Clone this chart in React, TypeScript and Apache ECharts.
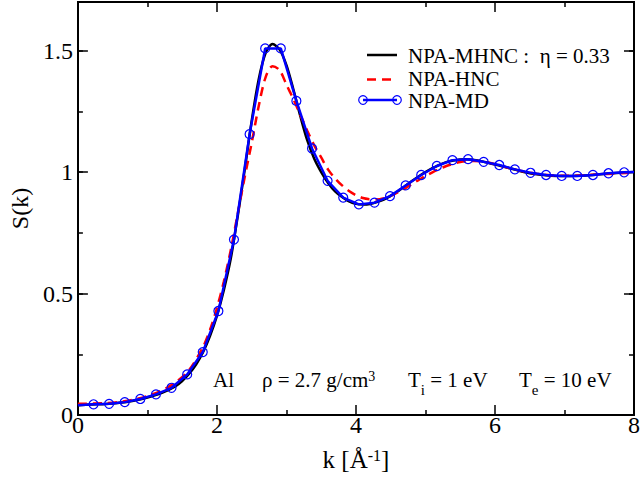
import React, { useEffect, useRef } from "react";
import * as echarts from "echarts";

// NPA-MHNC (eta = 0.33), solid black
const kMHNC = [0.0, 0.2, 0.4, 0.6, 0.8, 1.0, 1.2, 1.4, 1.5, 1.6, 1.7, 1.8, 1.9, 2.0, 2.1, 2.2, 2.3, 2.4, 2.5, 2.6, 2.7, 2.8, 2.9, 3.0, 3.1, 3.2, 3.3, 3.4, 3.5, 3.6, 3.7, 3.8, 3.9, 4.0, 4.1, 4.2, 4.3, 4.4, 4.5, 4.6, 4.7, 4.8, 4.9, 5.0, 5.1, 5.2, 5.3, 5.4, 5.5, 5.6, 5.7, 5.8, 5.9, 6.0, 6.1, 6.2, 6.3, 6.4, 6.5, 6.6, 6.7, 6.8, 7.0, 7.2, 7.4, 7.6, 7.8, 8.0];
const sMHNC = [0.040, 0.043, 0.045, 0.050, 0.059, 0.072, 0.090, 0.118, 0.140, 0.170, 0.208, 0.258, 0.325, 0.408, 0.515, 0.645, 0.82, 1.01, 1.21, 1.38, 1.49, 1.527, 1.505, 1.44, 1.34, 1.23, 1.13, 1.055, 1.0, 0.955, 0.92, 0.897, 0.879, 0.869, 0.866, 0.868, 0.876, 0.887, 0.902, 0.920, 0.941, 0.962, 0.982, 1.000, 1.016, 1.030, 1.041, 1.048, 1.052, 1.053, 1.050, 1.045, 1.038, 1.031, 1.024, 1.017, 1.009, 1.001, 0.995, 0.991, 0.988, 0.985, 0.984, 0.985, 0.988, 0.993, 0.997, 1.000];

// NPA-HNC, dashed red
const kHNC = [0.0, 0.2, 0.4, 0.6, 0.8, 1.0, 1.2, 1.4, 1.6, 1.8, 1.9, 2.0, 2.1, 2.2, 2.3, 2.4, 2.5, 2.6, 2.7, 2.8, 2.9, 3.0, 3.1, 3.2, 3.3, 3.4, 3.5, 3.6, 3.7, 3.8, 3.9, 4.0, 4.1, 4.2, 4.3, 4.4, 4.5, 4.6, 4.7, 4.8, 4.9, 5.0, 5.1, 5.2, 5.3, 5.4, 5.5, 5.6, 5.7, 5.8, 5.9, 6.0, 6.2, 6.4, 6.6, 6.8, 7.0, 7.2, 7.4, 7.6, 7.8, 8.0];
const sHNC = [0.046, 0.047, 0.049, 0.054, 0.063, 0.078, 0.100, 0.133, 0.185, 0.28, 0.35, 0.44, 0.55, 0.68, 0.83, 0.98, 1.12, 1.27, 1.39, 1.436, 1.42, 1.36, 1.30, 1.235, 1.17, 1.11, 1.06, 1.01, 0.974, 0.945, 0.922, 0.905, 0.893, 0.888, 0.887, 0.892, 0.902, 0.916, 0.932, 0.950, 0.967, 0.984, 0.999, 1.013, 1.025, 1.034, 1.041, 1.045, 1.046, 1.044, 1.039, 1.032, 1.017, 1.003, 0.993, 0.987, 0.985, 0.986, 0.989, 0.992, 0.995, 0.998];

// NPA-MD, blue line with open circles
const kMD = [0.0, 0.225, 0.449, 0.674, 0.898, 1.123, 1.347, 1.572, 1.796, 2.021, 2.245, 2.470, 2.694, 2.919, 3.143, 3.368, 3.592, 3.817, 4.041, 4.266, 4.490, 4.715, 4.939, 5.164, 5.388, 5.613, 5.837, 6.062, 6.286, 6.511, 6.735, 6.960, 7.184, 7.409, 7.633, 7.858, 8.0];
const sMD = [0.040, 0.044, 0.046, 0.053, 0.066, 0.085, 0.112, 0.167, 0.259, 0.428, 0.722, 1.156, 1.509, 1.509, 1.293, 1.097, 0.964, 0.895, 0.867, 0.874, 0.901, 0.945, 0.988, 1.025, 1.049, 1.053, 1.042, 1.029, 1.011, 0.997, 0.988, 0.984, 0.984, 0.988, 0.995, 0.999, 1.0];

const xTicks = { min: 0, max: 8, interval: 2 };
const yTicks = { min: 0, max: 1.7, interval: 0.5, minor: 0.25 };

const FONT = "Liberation Serif";

export default function App() {
  const ref = useRef<HTMLDivElement>(null);
  useEffect(() => {
    if (!ref.current) return;
    const chart = echarts.init(ref.current, null, { renderer: "svg" });
    const axisLine = { show: true, onZero: false, lineStyle: { color: "#000", width: 2 } };
    const mkX = (pos: string, labels: boolean) => ({
      type: "value",
      position: pos,
      min: xTicks.min,
      max: xTicks.max,
      interval: xTicks.interval,
      axisLine,
      axisTick: { show: true, inside: true, length: 10, lineStyle: { color: "#000", width: 1.5 } },
      minorTick: { show: true, splitNumber: 2, length: 5, lineStyle: { color: "#000", width: 1.5 } },
      splitLine: { show: false },
      axisLabel: labels
        ? { show: true, fontFamily: FONT, fontSize: 24, color: "#000", margin: -2 }
        : { show: false },
      ...(labels
        ? {
            name: "{a|k [Å}{b|-1}{a|]}",
            nameLocation: "middle",
            nameGap: 32,
            nameTextStyle: {
              fontFamily: FONT,
              fontSize: 25,
              color: "#000",
              rich: {
                a: { fontFamily: FONT, fontSize: 25, color: "#000", lineHeight: 26, verticalAlign: "top" },
                b: { fontFamily: FONT, fontSize: 16, color: "#000", lineHeight: 16, verticalAlign: "top" },
              },
            },
          }
        : {}),
    });
    const mkY = (pos: string, interval: number, len: number, labels: boolean) => ({
      type: "value",
      position: pos,
      min: yTicks.min,
      max: yTicks.max,
      interval,
      axisLine,
      axisTick: { show: true, inside: true, length: len, lineStyle: { color: "#000", width: 1.5 } },
      splitLine: { show: false },
      axisLabel: labels
        ? {
            show: true,
            fontFamily: FONT,
            fontSize: 24,
            color: "#000",
            margin: 5,
            formatter: (v: number) => (v > 1.6 ? "" : String(v)),
          }
        : { show: false },
      ...(labels
        ? {
            name: "S(k)",
            nameLocation: "middle",
            nameGap: 42,
            nameTextStyle: { fontFamily: FONT, fontSize: 24, color: "#000" },
          }
        : {}),
    });
    const txt = (x: number, y: number, text: string) => ({
      type: "text",
      x,
      y,
      style: { text, fontFamily: FONT, fontSize: 21, lineHeight: 19, fill: "#000", verticalAlign: "middle" },
    });
    const option: any = {
      animation: false,
      backgroundColor: "#fff",
      grid: { left: 72, right: 5, top: 2, bottom: 67, containLabel: false },
      xAxis: [mkX("bottom", true), mkX("top", false)],
      yAxis: [
        mkY("left", yTicks.interval, 10, true),
        mkY("left", yTicks.minor, 5, false),
        mkY("right", yTicks.interval, 10, false),
        mkY("right", yTicks.minor, 5, false),
      ],
      series: [
        {
          name: "NPA-MHNC",
          type: "line",
          data: kMHNC.map((k, i) => [k, sMHNC[i]]),
          showSymbol: false,
          symbol: "none",
          smooth: 0.3,
          lineStyle: { color: "#000", width: 2.5 },
          z: 2,
        },
        {
          name: "NPA-HNC",
          type: "line",
          data: kHNC.map((k, i) => [k, sHNC[i]]),
          symbol: "none",
          smooth: 0.3,
          lineStyle: { color: "#ff0000", width: 2.5, type: [9, 6] },
          z: 3,
        },
        {
          name: "NPA-MD",
          type: "line",
          data: kMD.map((k, i) =>
            i === 0 || i === kMD.length - 1
              ? { value: [k, sMD[i]], symbol: "none" }
              : [k, sMD[i]]
          ),
          symbol: "circle",
          symbolSize: 9,
          showAllSymbol: true,
          itemStyle: { color: "rgba(0,0,0,0)", borderColor: "#0000ff", borderWidth: 1.2 },
          lineStyle: { color: "#0000ff", width: 2.5 },
          z: 4,
        },
      ],
      graphic: [
        { type: "line", shape: { x1: 367, y1: 55, x2: 397, y2: 55 }, style: { stroke: "#000", lineWidth: 2.5 } },
        txt(408, 56, "NPA-MHNC :  η = 0.33"),
        { type: "line", shape: { x1: 367, y1: 79.5, x2: 397, y2: 79.5 }, style: { stroke: "#ff0000", lineWidth: 2.5, lineDash: [9, 6] } },
        txt(408, 79, "NPA-HNC"),
        { type: "line", shape: { x1: 363, y1: 100, x2: 397, y2: 100 }, style: { stroke: "#0000ff", lineWidth: 2.5 } },
        { type: "circle", shape: { cx: 363, cy: 100, r: 4.3 }, style: { stroke: "#0000ff", lineWidth: 1.2, fill: "none" } },
        { type: "circle", shape: { cx: 397, cy: 100, r: 4.3 }, style: { stroke: "#0000ff", lineWidth: 1.2, fill: "none" } },
        txt(408, 101, "NPA-MD"),
        ...[
          { x: 213, t: "{m|Al}" },
          { x: 262, t: "{m|ρ = 2.7 g/cm}{p|3}" },
          { x: 408, t: "{m|T}{s|i}{m| = 1 eV}" },
          { x: 519, t: "{m|T}{s|e}{m| = 10 eV}" },
        ].map((a) => ({
          type: "text",
          x: a.x,
          y: 369,
          style: {
            text: a.t,
            fill: "#000",
            fontFamily: FONT,
            fontSize: 21,
            verticalAlign: "top",
            rich: {
              m: { fontFamily: FONT, fontSize: 21, lineHeight: 22, verticalAlign: "top", fill: "#000" },
              s: { fontFamily: FONT, fontSize: 15, lineHeight: 15, padding: [13, 0, 0, 0], verticalAlign: "top", fill: "#000" },
              p: { fontFamily: FONT, fontSize: 14, lineHeight: 14, verticalAlign: "top", fill: "#000" },
            },
          },
        })),
      ],
    };
    chart.setOption(option);
    return () => chart.dispose();
  }, []);
  return (
    <div
      ref={ref}
      style={{ position: "fixed", left: 0, top: 0, width: 643, height: 482, background: "#fff" }}
    />
  );
}
